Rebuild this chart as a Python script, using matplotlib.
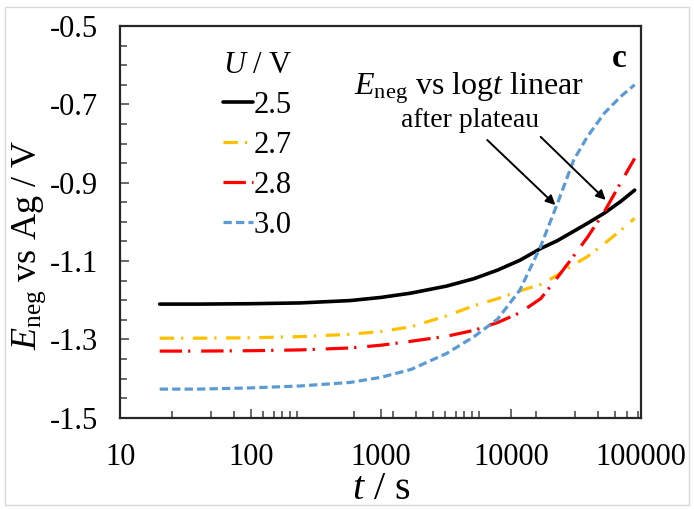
import matplotlib
matplotlib.use("Agg")
import matplotlib.pyplot as plt
from matplotlib.patches import Rectangle
from matplotlib.ticker import FixedLocator, FixedFormatter, NullFormatter

plt.rcParams["font.family"] = ["Liberation Serif", "DejaVu Serif"]
plt.rcParams["mathtext.fontset"] = "custom"
plt.rcParams["mathtext.rm"] = "Liberation Serif"
plt.rcParams["mathtext.it"] = "Liberation Serif:italic"
plt.rcParams["mathtext.bf"] = "Liberation Serif:bold"
plt.rcParams["axes.unicode_minus"] = False

# time (s) and negative-electrode potential (V vs Ag) for each cell voltage
time_s = [20, 40, 100, 240, 580, 1000, 1700, 3200, 5200, 7900, 11700,
          16900, 22700, 30300, 38500, 51900, 69500, 89000]
e_25 = [-1.210, -1.210, -1.209, -1.207, -1.201, -1.193, -1.182, -1.164, -1.145,
        -1.123, -1.098, -1.068, -1.048, -1.024, -1.004, -0.978, -0.948, -0.919]
e_27 = [-1.297, -1.297, -1.296, -1.293, -1.287, -1.280, -1.268, -1.240, -1.214,
        -1.196, -1.176, -1.160, -1.136, -1.109, -1.089, -1.056, -1.022, -0.991]
e_28 = [-1.330, -1.330, -1.329, -1.327, -1.322, -1.315, -1.305, -1.292, -1.277,
        -1.257, -1.232, -1.196, -1.142, -1.087, -1.040, -0.975, -0.900, -0.838]
e_30 = [-1.427, -1.427, -1.424, -1.419, -1.410, -1.397, -1.377, -1.336, -1.293,
        -1.248, -1.174, -1.062, -0.953, -0.842, -0.783, -0.723, -0.680, -0.650]

voltage_labels = ["2.5", "2.7", "2.8", "3.0"]

x_major = [10, 100, 1000, 10000, 100000]
x_major_labels = ["10", "100", "1000", "10000", "100000"]
x_minor = [25, 50, 75, 125, 150, 175, 200, 225, 625, 1250, 1875, 2500, 3125,
           3750, 4375, 5000, 5625, 15625, 31250, 46875, 62500, 78125, 93750]
y_major = [-1.5, -1.3, -1.1, -0.9, -0.7, -0.5]
y_major_labels = ["-1.5", "-1.3", "-1.1", "-0.9", "-0.7", "-0.5"]

fig = plt.figure(figsize=(6.94, 5.09), dpi=100)
fig.patches.append(Rectangle((5 / 694, 4 / 509), 684 / 694, 498 / 509,
                             transform=fig.transFigure, fill=False,
                             edgecolor="#d9d9d9", linewidth=1.0))

ax = fig.add_axes([0.1736, 0.1794, 0.7504, 0.7695])
ax.set_xscale("log")

lw = 2.3
ax.plot(time_s, e_25, color="black", lw=2.6, solid_capstyle="round",
        label=voltage_labels[0])
ax.plot(time_s, e_27, color="#FFC000", lw=lw, dashes=(4.5, 2.2, 0.7, 3.0),
        label=voltage_labels[1])
ax.plot(time_s, e_28, color="#FF0000", lw=lw, dashes=(7.0, 1.9, 0.7, 3.4),
        label=voltage_labels[2])
ax.plot(time_s, e_30, color="#5B9BD5", lw=lw, dashes=(2.6, 1.3),
        label=voltage_labels[3])

ax.set_xlim(10, 100000)
ax.set_ylim(-1.5, -0.5)

ax.xaxis.set_major_locator(FixedLocator(x_major))
ax.xaxis.set_major_formatter(FixedFormatter(x_major_labels))
ax.xaxis.set_minor_locator(FixedLocator(x_minor))
ax.xaxis.set_minor_formatter(NullFormatter())
ax.yaxis.set_major_locator(FixedLocator(y_major))
ax.yaxis.set_major_formatter(FixedFormatter(y_major_labels))
ax.yaxis.set_minor_locator(FixedLocator([-1.5 + 0.05 * i for i in range(21)]))

ax.tick_params(which="both", direction="in", colors="#404040",
               labelcolor="black", labelsize=22, width=1.1)
ax.tick_params(which="major", length=6.5)
ax.tick_params(which="minor", length=5)
ax.tick_params(axis="x", which="major", pad=18)
ax.tick_params(axis="y", which="major", pad=16)

for sp in ax.spines.values():
    sp.set_linewidth(1.6)
    sp.set_color("#262626")

ax.set_xlabel(r"$\mathit{t}$ / s", fontsize=29)
ax.xaxis.set_label_coords(0.5, -0.136)
ax.set_ylabel(r"$\mathit{E}_{\mathrm{neg}}$ vs Ag / V", fontsize=26)
ax.yaxis.set_label_coords(-0.139, 0.44)

leg = ax.legend(loc="upper left", bbox_to_anchor=(0.196, 0.937),
                frameon=False, fontsize=22, title=r"$\mathit{U}$ / V",
                title_fontsize=22, handlelength=1.0, handletextpad=0.02,
                labelspacing=0.36, borderpad=0, borderaxespad=0,
                alignment="left")

ax.text(0.669, 0.842, r"$\mathit{E}_{\mathrm{neg}}$ vs log$\mathit{t}$ linear",
        transform=ax.transAxes, fontsize=23, ha="center", va="center")
ax.text(0.671, 0.758, "after plateau", transform=ax.transAxes, fontsize=20,
        ha="center", va="center")
ax.text(0.958, 0.918, "c", transform=ax.transAxes, fontsize=24,
        fontweight="bold", ha="center", va="center")

arrow_style = dict(arrowstyle="-|>", color="black", lw=1.4,
                   mutation_scale=14, shrinkA=0, shrinkB=0)
ax.annotate("", xy=(21900, -0.957), xytext=(6560, -0.791),
            arrowprops=arrow_style)
ax.annotate("", xy=(53300, -0.944), xytext=(16870, -0.783),
            arrowprops=arrow_style)

fig.savefig("out.png", dpi=100)
